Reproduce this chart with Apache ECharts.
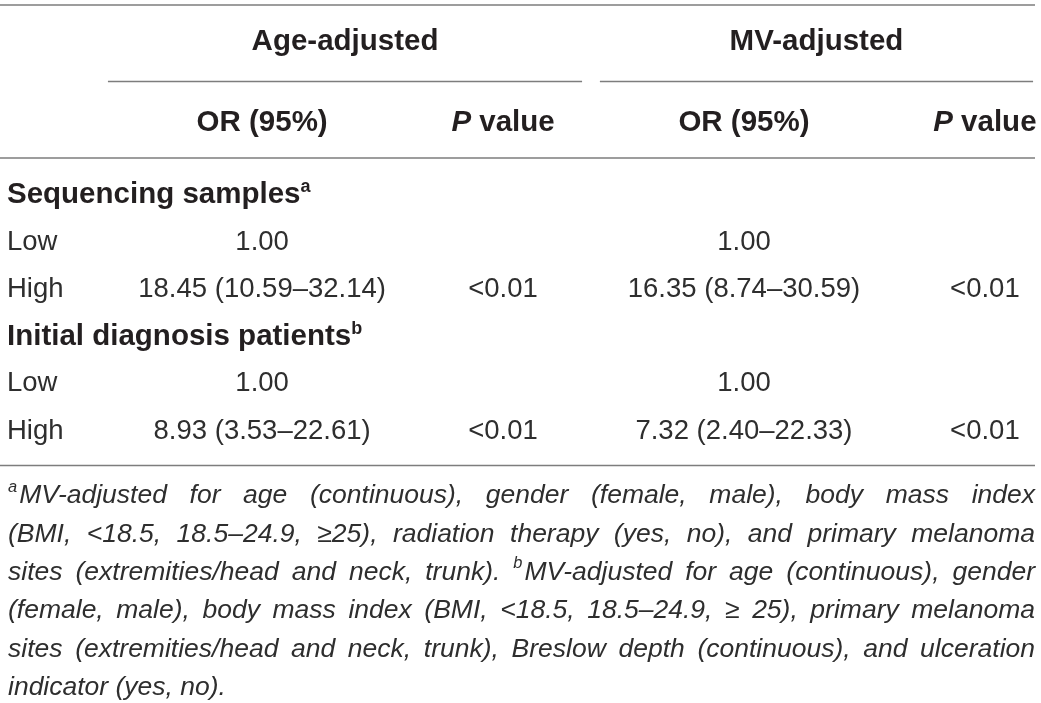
<!DOCTYPE html>
<html>
<head>
<meta charset="utf-8">
<script src="https://cdn.jsdelivr.net/npm/echarts@6/dist/echarts.min.js"></script>
<style>
html, body { margin: 0; padding: 0; background: #fff; }
#chart { width: 1041px; height: 703px; }
</style>
</head>
<body>
<div id="chart"></div>
<script>
// table content
var columns = ['OR (95%)', 'P value', 'OR (95%)', 'P value'];
var rowLabels = ['Sequencing samples', 'Low', 'High', 'Initial diagnosis patients', 'Low', 'High'];
var rowNotes = ['a', '', '', 'b', '', ''];
var ageOR = ['', '1.00', '18.45 (10.59–32.14)', '', '1.00', '8.93 (3.53–22.61)'];
var ageP = ['', '', '<0.01', '', '', '<0.01'];
var mvOR = ['', '1.00', '16.35 (8.74–30.59)', '', '1.00', '7.32 (2.40–22.33)'];
var mvP = ['', '', '<0.01', '', '', '<0.01'];

// spanning headers, measured in column units (0 = first OR column)
var spanNames = ['Age-adjusted', 'MV-adjusted'];
var spanFrom = [-0.64, 1.402];
var spanTo = [1.328, 3.2];

// footnote, one entry per printed line (^x = superscript)
var footLines = [
  '^aMV-adjusted for age (continuous), gender (female, male), body mass index',
  '(BMI, <18.5, 18.5–24.9, ≥25), radiation therapy (yes, no), and primary melanoma',
  'sites (extremities/head and neck, trunk). ^bMV-adjusted for age (continuous), gender',
  '(female, male), body mass index (BMI, <18.5, 18.5–24.9, ≥ 25), primary melanoma',
  'sites (extremities/head and neck, trunk), Breslow depth (continuous), and ulceration',
  'indicator (yes, no).'
];

var ink = '#231f20';
var bodyInk = '#2e2e2e';
var ruleColor = '#7d7d7d';
var family = '"Liberation Sans", Arial, Helvetica, sans-serif';
var boldSize = 29.5;
var bodySize = 27.5;

var chart = echarts.init(document.getElementById('chart'), null, { renderer: 'canvas' });

// cells -> [column, row, text]
var cells = [];
[ageOR, ageP, mvOR, mvP].forEach(function (col, c) {
  col.forEach(function (t, r) {
    if (t) cells.push([c, r, t]);
  });
});

var subHeads = columns.map(function (name, c) { return [c, 1, name]; });
var spanData = spanNames.map(function (n, i) { return [spanFrom[i], spanTo[i], 0]; });

// footnote: justified lines, one text per word
function buildFootnote() {
  var ctx = document.createElement('canvas').getContext('2d');
  var left = 8, right = 1035, W = right - left;
  var top = 496, step = 38.3;
  var size = 26.5;
  var lines = footLines.map(function (s) {
    return s.split(' ').map(function (w) {
      var m = w.match(/^\^(\w)(.*)$/);
      return m ? { sup: m[1], text: m[2] } : { sup: '', text: w };
    });
  });
  function font(sz) { return 'italic ' + sz + 'px ' + family; }
  function measure(sz) {
    var supSz = sz * 0.62;
    return lines.map(function (toks) {
      return toks.map(function (t) {
        ctx.font = font(supSz);
        var sw = t.sup ? ctx.measureText(t.sup).width + 2 : 0;
        ctx.font = font(sz);
        return { sw: sw, tw: ctx.measureText(t.text).width };
      });
    });
  }
  var m = measure(size);
  // shrink until every justified line keeps a sensible word gap
  for (var k = 0; k < 20; k++) {
    var ok = m.every(function (ws, i) {
      if (i === lines.length - 1) return true;
      var sum = ws.reduce(function (a, w) { return a + w.sw + w.tw; }, 0);
      return (W - sum) / (ws.length - 1) >= size * 0.2;
    });
    if (ok) break;
    size -= 0.5;
    m = measure(size);
  }
  var els = [];
  lines.forEach(function (toks, i) {
    var ws = m[i];
    var sum = ws.reduce(function (a, w) { return a + w.sw + w.tw; }, 0);
    ctx.font = font(size);
    var gap = i === lines.length - 1 ? ctx.measureText(' ').width : (W - sum) / (toks.length - 1);
    var x = left;
    var y = top + i * step;
    toks.forEach(function (t, j) {
      if (t.sup) {
        els.push({
          type: 'text', x: x, y: y - size * 0.33, silent: true,
          style: { text: t.sup, font: font(size * 0.62), fill: bodyInk,
            align: 'left', verticalAlign: 'middle', textAlign: 'left', textVerticalAlign: 'middle' }
        });
      }
      els.push({
        type: 'text', x: x + ws[j].sw, y: y, silent: true,
        style: { text: t.text, font: font(size), fill: bodyInk,
          align: 'left', verticalAlign: 'middle', textAlign: 'left', textVerticalAlign: 'middle' }
      });
      x += ws[j].sw + ws[j].tw + gap;
    });
  });
  return els;
}

function rule(y) {
  return {
    type: 'line', silent: true,
    shape: { x1: 0, y1: y, x2: 1035, y2: y },
    style: { stroke: ruleColor, lineWidth: 1.5 }
  };
}

function hiddenValueX(grid) {
  return {
    gridIndex: grid, type: 'value', min: -1.088, max: 3.208,
    axisLine: { show: false }, axisTick: { show: false }, splitLine: { show: false },
    axisLabel: { show: false }
  };
}

var option = {
  animation: false,
  backgroundColor: '#fff',
  textStyle: { fontFamily: family, color: ink },
  grid: [
    { left: 0, right: 6, top: 171.5, height: 283.2 },
    { left: 0, right: 6, top: 5, height: 153 }
  ],
  xAxis: [hiddenValueX(0), hiddenValueX(1)],
  yAxis: [
    {
      gridIndex: 0, type: 'category', inverse: true, data: rowLabels,
      axisLine: { show: false }, axisTick: { show: false }, splitLine: { show: false },
      axisLabel: {
        inside: true, interval: 0, margin: 7,
        formatter: function (v, i) {
          return rowNotes[i] ? '{g|' + v + '}{s|' + rowNotes[i] + '}' : '{r|' + v + '}';
        },
        rich: {
          g: { fontFamily: family, fontWeight: 'bold', fontSize: boldSize, color: ink, lineHeight: 34 },
          s: { fontFamily: family, fontWeight: 'bold', fontSize: 18, color: ink, lineHeight: 20, verticalAlign: 'top' },
          r: { fontFamily: family, fontSize: bodySize, color: bodyInk, lineHeight: 34 }
        }
      }
    },
    {
      gridIndex: 1, type: 'category', inverse: true, data: ['span', 'sub'],
      axisLine: { show: false }, axisTick: { show: false }, splitLine: { show: false },
      axisLabel: { show: false }
    }
  ],
  series: [
    {
      type: 'scatter', xAxisIndex: 0, yAxisIndex: 0, silent: true,
      symbolSize: 0, data: cells, itemStyle: { opacity: 1 },
      label: {
        show: true, position: 'inside', opacity: 1,
        formatter: function (p) { return p.data[2]; },
        fontFamily: family, fontSize: bodySize, color: bodyInk
      }
    },
    {
      type: 'scatter', xAxisIndex: 1, yAxisIndex: 1, silent: true,
      symbolSize: 0, data: subHeads, itemStyle: { opacity: 1 },
      label: {
        show: true, position: 'inside', opacity: 1, offset: [0, 3],
        formatter: function (p) {
          var v = p.data[2];
          return v.indexOf('P ') === 0 ? '{i|P}{b|' + v.slice(1) + '}' : '{b|' + v + '}';
        },
        rich: {
          b: { fontFamily: family, fontWeight: 'bold', fontSize: boldSize, color: ink },
          i: { fontFamily: family, fontWeight: 'bold', fontStyle: 'italic', fontSize: boldSize, color: ink }
        }
      }
    },
    {
      type: 'custom', xAxisIndex: 1, yAxisIndex: 1, silent: true,
      data: spanData, encode: { x: [0, 1], y: 2 },
      renderItem: function (params, api) {
        var a = api.coord([api.value(0), 0]);
        var b = api.coord([api.value(1), 0]);
        var h = api.size([0, 1])[1];
        return {
          type: 'group',
          children: [
            {
              type: 'text',
              style: {
                text: spanNames[params.dataIndex], x: (a[0] + b[0]) / 2, y: a[1] - 1,
                align: 'center', verticalAlign: 'middle', textAlign: 'center', textVerticalAlign: 'middle',
                font: 'bold ' + boldSize + 'px ' + family, fill: ink
              }
            },
            {
              type: 'line',
              shape: { x1: a[0], y1: a[1] + h / 2, x2: b[0], y2: a[1] + h / 2 },
              style: { stroke: ruleColor, lineWidth: 1.5 }
            }
          ]
        };
      }
    }
  ],
  graphic: [rule(5), rule(158), rule(465.5)].concat(buildFootnote())
};

chart.setOption(option);
</script>
</body>
</html>
